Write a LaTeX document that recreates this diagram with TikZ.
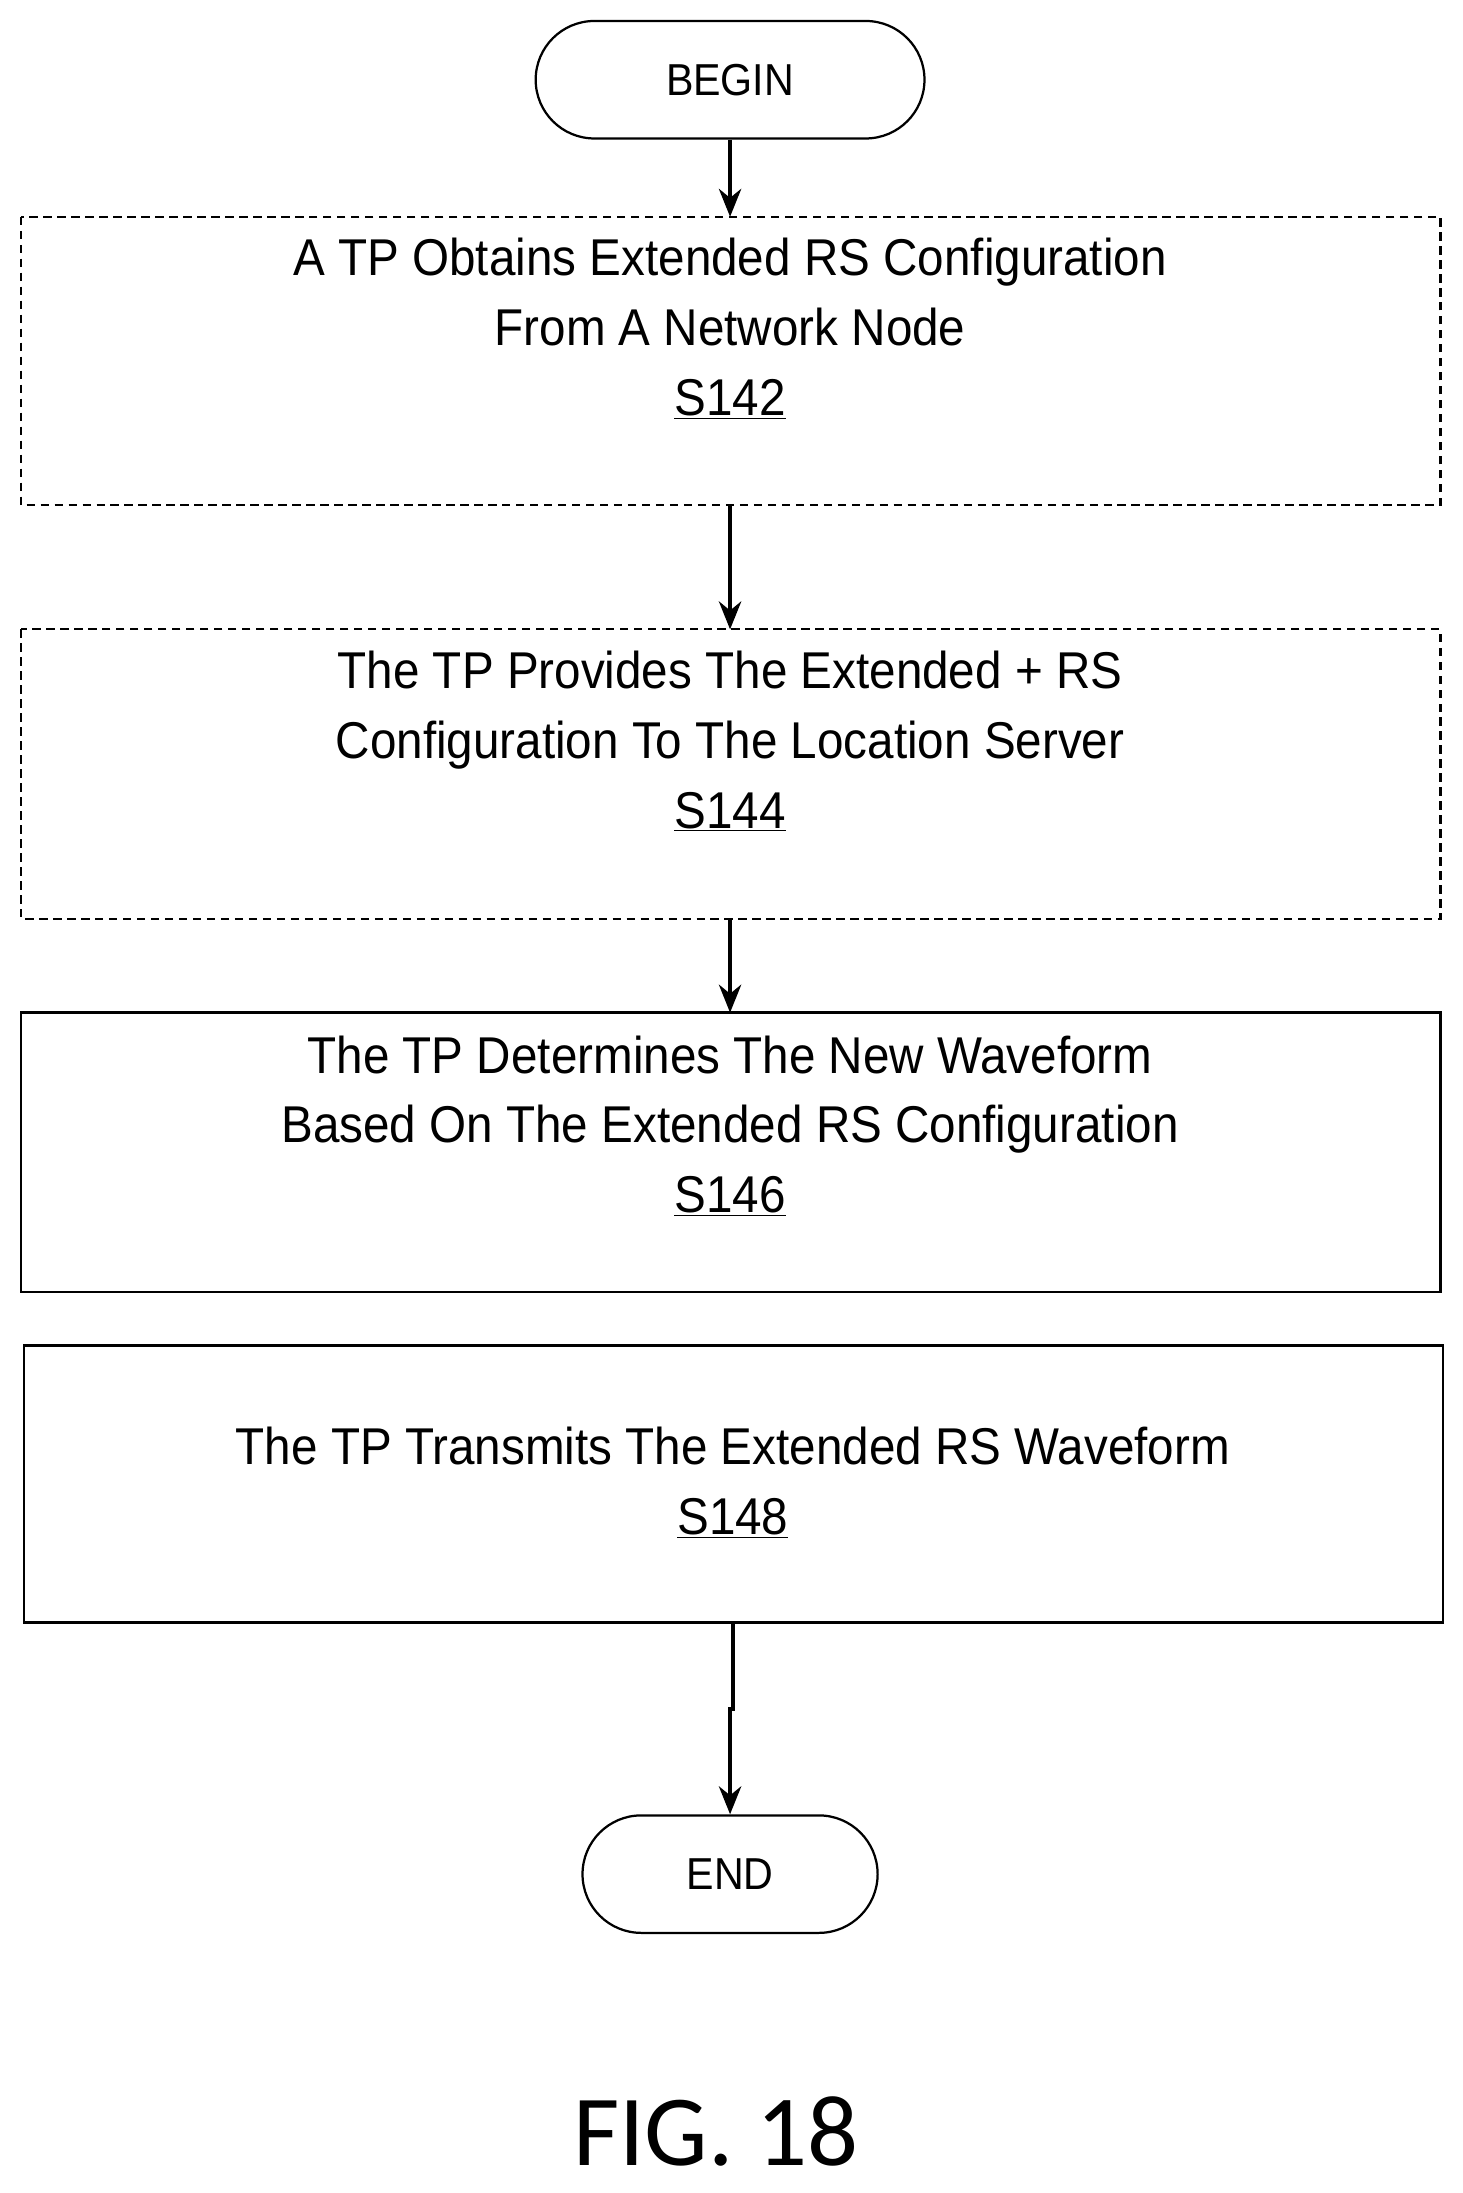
\documentclass[tikz,border=0pt]{standalone}
\usepackage{fontspec}
\setmainfont{Liberation Sans}[FakeStretch=0.92]
\newfontfamily\figfont{Carlito}
\usetikzlibrary{arrows.meta}
\begin{document}
\begin{tikzpicture}[x=1pt,y=-1pt,
  txt/.style={font=\fontsize{37}{50}\selectfont,align=center},
  box/.style={draw,line width=1.6pt},
  dbox/.style={box,dash pattern=on 6pt off 4pt},
  term/.style={draw,line width=1.6pt,rounded corners=42pt,font=\fontsize{32}{36}\selectfont},
  arr/.style={line width=2.6pt,-{Stealth[length=20pt,width=16pt]}}]
\useasboundingbox (0,0) rectangle (1046,1568);
\node[term,minimum width=278pt,minimum height=84pt] (begin) at (522,57) {BEGIN};
\draw[dbox] (15,155) rectangle (1030,361);
\node[txt] (s142) at (522,235) {A TP Obtains Extended RS Configuration\\From A Network Node\\\underline{S142}};
\coordinate (b1t) at (522,155); \coordinate (b1b) at (522,361);
\draw[dbox] (15,450) rectangle (1030,657);
\node[txt] (s144) at (522,530) {The TP Provides The Extended + RS\\Configuration To The Location Server\\\underline{S144}};
\coordinate (b2t) at (522,450); \coordinate (b2b) at (522,657);
\draw[box] (15,724) rectangle (1030,924);
\node[txt] (s146) at (522,805) {The TP Determines The New Waveform\\Based On The Extended RS Configuration\\\underline{S146}};
\coordinate (b3t) at (522,724);
\draw[box] (17,962) rectangle (1032,1160);
\node[txt] (s148) at (524,1060) {The TP Transmits The Extended RS Waveform\\\underline{S148}};
\coordinate (b4b) at (524,1160);
\node[term,minimum width=211pt,minimum height=84pt] (end) at (522,1340) {END};
\draw[arr] (begin.south) -- (b1t);
\draw[arr] (b1b) -- (b2t);
\draw[arr] (b2b) -- (b3t);
\draw[arr] (b4b) -- (524,1222) -- (522,1222) -- (end.north);
\node[font=\figfont\fontsize{72}{78}\selectfont] (fig) at (512,1524) {FIG. 18};
\end{tikzpicture}
\end{document}
